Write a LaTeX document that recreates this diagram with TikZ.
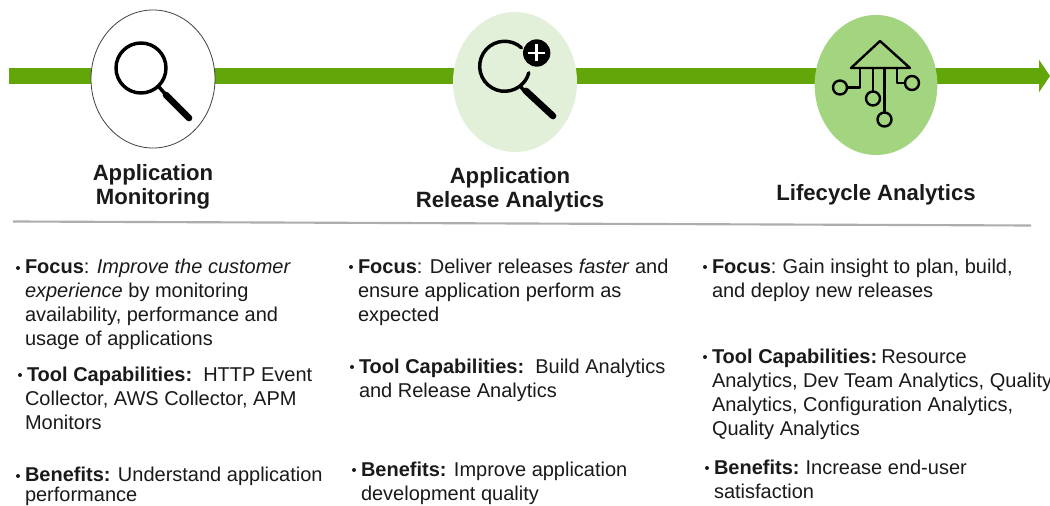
\documentclass[tikz,border=0pt]{standalone}
\usepackage{fontspec}
\setmainfont{Liberation Sans}
\usetikzlibrary{arrows.meta,shapes.geometric}
\definecolor{barg}{HTML}{62A60A}
\definecolor{cg}{HTML}{E2F0D9}
\definecolor{cm}{HTML}{A3D47F}
\definecolor{txt}{HTML}{1A1A1A}
\tikzset{
 x=0.75pt,y=-0.75pt,
 ln/.style={anchor=base west,inner sep=0,outer sep=0,text=txt,font=\fontsize{15}{18}\selectfont},
 head/.style={anchor=center,inner sep=0,outer sep=0,align=center,text=txt,font=\fontsize{16.6}{18}\selectfont\bfseries},
 bul/.style={fill=txt,circle,inner sep=0,minimum size=3pt},
 stage/.style={ellipse,inner sep=0,outer sep=0},
 ic/.style={draw=black,line width=2.6pt,line cap=round,line join=round},
 ict/.style={draw=black,line width=1.8pt,line cap=round,line join=round},
 hd/.style={draw=black,line width=5pt,line cap=round},
}
\begin{document}
\begin{tikzpicture}
\useasboundingbox (0,0) rectangle (1050,506);
\fill[white] (0,0) rectangle (1050,506);
% arrow
\coordinate (s) at (9,76);
\coordinate (e) at (1050,76);
\draw[barg,line width=12pt,-{Triangle[width=24pt,length=8.25pt]}] (s) -- (e);
% circles
\node[stage,draw=black!75,line width=0.6pt,fill=white,minimum width=93pt,minimum height=103.5pt] (c1) at (153,79) {};
\node[stage,fill=cg,minimum width=93pt,minimum height=105pt] (c2) at (515,82) {};
\node[stage,fill=cm,minimum width=92pt,minimum height=105pt] (c3) at (876,85) {};
% icon 1
\draw[ic] (141,68) circle (25);
\draw[ic] (159,87) -- (167,96);
\draw[hd] (166,95) -- (189,118);
% icon 2
\draw[ic] (521.4,47.7) arc[start angle=-48,end angle=-345,radius=25];
\draw[ic] (521,87) -- (525,92);
\draw[hd] (526,91) -- (553,116);
\node[fill=black,circle,inner sep=0,minimum size=20.5pt] (pl) at (536.7,53) {};
\draw[white,line width=2.2pt] (536.7,44.5) -- (536.7,61.5) (528.2,53) -- (545.2,53);
% icon 3
\draw[ict] (851,68) -- (880,41) -- (910,68) -- cycle;
\draw[ict] (860,68) -- (860,87.5) -- (848,87.5);
\draw[ict] (840,87.5) circle (7);
\draw[ict] (873,68) -- (873,91);
\draw[ict] (873,98.5) circle (7);
\draw[ict] (884.5,68) -- (884.5,112);
\draw[ict] (884.5,119.5) circle (7);
\draw[ict] (897,68) -- (897,83) -- (904,83);
\draw[ict] (912,83) circle (7);
% headings
\node[head] (h1) at (153,187) {Application\\Monitoring};
\node[head] (h2) at (510,190) {Application\\Release Analytics};
\node[head] (h3) at (876,195) {Lifecycle Analytics};
% rule
\draw[draw=black!32,line width=1.6pt] (13,221.5) -- (1031,225.5);
% col 1
\node[bul] at (18,268) {};
\node[ln] at (25,273) {\textbf{Focus}: \textit{Improve the customer}};
\node[ln] at (25,297) {\textit{experience} by monitoring};
\node[ln] at (25,321) {availability, performance and};
\node[ln] at (25,345) {usage of applications};
\node[bul] at (20,375) {};
\node[ln] at (27,381) {\textbf{Tool Capabilities:}\ \ HTTP Event};
\node[ln] at (25,405) {Collector, AWS Collector, APM};
\node[ln] at (25,429) {Monitors};
\node[bul] at (18,476) {};
\node[ln] at (25,481) {\textbf{Benefits:} Understand application};
\node[ln] at (25,501.5) {performance};
% col 2
\node[bul] at (351,267) {};
\node[ln] at (358,273) {\textbf{Focus}: Deliver releases \textit{faster} and};
\node[ln] at (358,297) {ensure application perform as};
\node[ln] at (358,321) {expected};
\node[bul] at (352,367) {};
\node[ln] at (359,373) {\textbf{Tool Capabilities:}\ \ Build Analytics};
\node[ln] at (359,397) {and Release Analytics};
\node[bul] at (354,470) {};
\node[ln] at (361,476) {\textbf{Benefits:} Improve application};
\node[ln] at (361,500) {development quality};
% col 3
\node[bul] at (705,267) {};
\node[ln] at (712,273) {\textbf{Focus}:\hspace{-1pt} Gain insight to plan, build,};
\node[ln] at (712,297) {and deploy new releases};
\node[bul] at (705,357) {};
\node[ln] at (712,363) {\textbf{Tool Capabilities:}\hspace{-2.5pt} Resource};
\node[ln] at (712,387) {Analytics, Dev Team Analytics, Quality};
\node[ln] at (712,411) {Analytics, Configuration Analytics,};
\node[ln] at (712,435) {Quality Analytics};
\node[bul] at (707,468) {};
\node[ln] at (714,474) {\textbf{Benefits:}\hspace{-1pt} Increase end-user};
\node[ln] at (714,498) {satisfaction};
\end{tikzpicture}
\end{document}
